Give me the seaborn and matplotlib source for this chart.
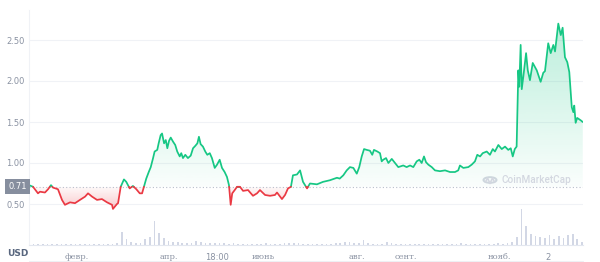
import numpy as np
import pandas as pd
import matplotlib
matplotlib.use("Agg")
import matplotlib.pyplot as plt
import seaborn as sns
from matplotlib.path import Path
from matplotlib.lines import Line2D
from matplotlib.patches import Circle
import matplotlib.transforms as mtransforms

# ---------------- data ----------------
day = [0, 2.6, 5.8, 7.1, 10.3, 12.3, 14.2, 15.5, 18.7, 21.3, 23.2, 26.5, 29.7, 32.9, 36.2,
       38.1, 40.7, 43.9, 47.1, 50.4, 53.6, 54.2, 56.8,
       57.5, 59.2, 61.3, 62.8, 65.0, 67.1, 69.3, 71.5, 73.0, 74.2, 75.7, 77.3, 78.6, 80.1,
       81.1, 82.8, 83.7, 85.0, 85.9, 87.2, 88.3, 89.3, 90.4, 91.5, 93.0, 94.4, 95.7, 97.3,
       98.3, 99.4, 100.9, 102.6, 104.4, 105.9, 107.4, 108.7, 109.7, 110.8, 112.3, 113.8,
       115.1, 116.7, 118.1, 119.9, 121.4, 123.1, 124.6, 126.3, 127.8, 129.1, 130.2, 131.2,
       132.8, 134.3,
       136.2, 138.2, 141.4, 144.6, 147.2, 149.1, 152.4, 155.6, 158.8, 160.1, 163.3, 165.3,
       167.2, 169.1, 170.4, 173.0, 175.0, 176.9, 179.5, 181.4, 185.9, 189.8, 194.3, 198.8,
       200.6, 202.9, 205.1, 207.2, 209.4, 211.6, 213.2, 214.8, 216.3, 218.0, 220.1, 221.6,
       222.7, 224.9, 226.6, 227.7, 228.7, 230.5, 232.0, 234.2, 236.3, 238.4, 241.6, 243.8,
       246.0, 248.1, 250.3, 252.0, 253.5, 255.0, 256.3, 257.8, 260.0, 262.1, 265.3, 268.6,
       271.8, 275.0, 277.1, 278.2, 280.4, 283.6, 285.8, 287.9, 289.4, 291.2, 292.9, 295.5,
       297.6, 299.4, 300.8, 303.0, 305.2, 307.3, 309.4, 311.0, 312.3, 313.6,
       314.8, 315.9, 316.5, 317.4, 318.1, 319.1, 320.9, 322.0, 323.4, 325.2, 327.8, 330.3,
       332.0, 333.1, 335.2, 336.8, 338.5, 339.6, 341.7, 343.3, 344.5, 346.0, 347.5, 348.8,
       350.4, 351.4, 352.0, 352.9, 353.9, 356.2, 357.5]
price = [0.73, 0.71, 0.63, 0.65, 0.64, 0.68, 0.73, 0.70, 0.68, 0.55, 0.49, 0.52, 0.51, 0.55,
         0.59, 0.63, 0.59, 0.55, 0.56, 0.52, 0.49, 0.44, 0.50,
         0.51, 0.71, 0.80, 0.77, 0.69, 0.72, 0.68, 0.63, 0.63, 0.71, 0.81, 0.89, 0.95, 1.06,
         1.14, 1.16, 1.24, 1.34, 1.36, 1.24, 1.28, 1.18, 1.27, 1.31, 1.26, 1.22, 1.14, 1.08,
         1.12, 1.06, 1.10, 1.06, 1.09, 1.18, 1.21, 1.24, 1.32, 1.23, 1.20, 1.14,
         1.10, 1.12, 1.06, 0.94, 0.98, 1.04, 0.94, 0.89, 0.83, 0.73, 0.49, 0.63,
         0.67, 0.71,
         0.71, 0.66, 0.67, 0.60, 0.63, 0.67, 0.61, 0.60, 0.61, 0.64, 0.56, 0.61,
         0.69, 0.71, 0.85, 0.86, 0.91, 0.77, 0.69, 0.75, 0.74, 0.77, 0.79, 0.82,
         0.81, 0.85, 0.91, 0.95, 0.94, 0.87, 0.95, 1.08, 1.17, 1.16, 1.15, 1.10,
         1.16, 1.14, 1.12, 1.02, 1.04, 1.06, 1.00, 1.05, 1.00, 0.95, 0.97, 0.95,
         0.97, 0.95, 1.02, 1.04, 1.00, 1.08, 1.01, 0.98, 0.95, 0.91, 0.90, 0.91,
         0.89, 0.89, 0.91, 0.97, 0.94, 0.95, 0.98, 1.02, 1.10, 1.08, 1.12, 1.14,
         1.10, 1.17, 1.14, 1.22, 1.17, 1.20, 1.16, 1.18, 1.08, 1.17,
         1.20, 2.13, 1.93, 2.44, 1.90, 2.05, 2.34, 2.13, 2.01, 2.22, 2.13, 1.99,
         2.10, 2.12, 2.46, 2.34, 2.44, 2.36, 2.70, 2.56, 2.65, 2.29, 2.23, 2.11,
         1.68, 1.62, 1.70, 1.49, 1.55, 1.52, 1.50]
base_price = 0.71

# volume, one value every 3 days (relative units)
vol = [1.0, 1.2, 0.8, 1.0, 1.0, 0.9, 1.1, 1.0, 0.8, 1.0, 1.2, 1.0, 0.9, 1.0, 1.1, 1.0, 0.9,
       1.2, 1.0, 1.5, 13, 6, 3, 1.5, 2, 6, 8, 23, 12, 7, 4, 3, 2.5, 2, 2, 2, 4, 2.5, 2, 1.5,
       1.5, 2, 1.5, 1.2, 1.5, 1.2, 1.0, 1.2, 1.0, 1.2, 1.0, 1.5, 1.2, 1.0, 1.2, 1.5, 1.8, 2.0,
       1.8, 1.2, 1.0, 1.2, 1.0, 1.2, 1.0, 1.2, 1.5, 1.5, 2.5, 3.0, 2.0, 1.5, 5.0, 1.5, 1.0,
       1.0, 1.2, 3.0, 1.5, 1.2, 1.0, 1.0, 1.2, 1.0, 1.0, 1.2, 1.0, 1.0, 1.0, 1.2, 1.0, 1.0,
       1.2, 1.8, 1.2, 1.0, 1.0, 1.2, 1.0, 1.0, 1.2, 1.5, 1.2, 2.0, 3.0, 8, 35, 18, 11, 9, 8,
       7, 10, 6, 9, 7, 10, 11, 6, 3]
vol_day = np.arange(len(vol)) * 3.0

tick_days = [31, 90, 121.4, 151, 212, 243, 304, 335]
tick_labels = ["февр.", "апр.", "18:00", "июнь", "авг.", "сент.", "нояб.", "2"]
y_ticks = [0.5, 1.0, 1.5, 2.0, 2.5]
y_tick_labels = ["0.50", "1.00", "1.50", "2.00", "2.50"]

# ---------------- styling ----------------
GREEN = "#16c784"
RED = "#ea3943"
GRAY = "#8a92a2"

sns.set_theme(style="white")
plt.rcParams["font.family"] = ["DejaVu Sans"]

W, H = 600, 262
fig = plt.figure(figsize=(6.0, 2.62), dpi=100)
L, R, B, T = 29, 583, 245, 10
ax = fig.add_axes([L / W, (H - B) / H, (R - L) / W, (B - T) / H])
ax2 = ax.twinx()
ax.set_zorder(ax2.get_zorder() + 1)
ax.patch.set_visible(False)

x = np.asarray(day, float)
y = np.asarray(price, float)

# insert crossing points with baseline
xs, ys = [x[0]], [y[0]]
for i in range(1, len(x)):
    y0, y1 = y[i - 1], y[i]
    if (y0 - base_price) * (y1 - base_price) < 0:
        t = (base_price - y0) / (y1 - y0)
        xs.append(x[i - 1] + t * (x[i] - x[i - 1]))
        ys.append(base_price)
    xs.append(x[i])
    ys.append(y[i])
xs = np.array(xs)
ys = np.array(ys)

XMAX = (R - L) / 1.549
ymax = (B - T) / 82.0


def grad_fill(mask, color, a_lo, a_hi, y_lo, y_hi):
    coll = ax.fill_between(xs, base_price, ys, where=mask, interpolate=True,
                           facecolor="none", edgecolor="none")
    paths = coll.get_paths()
    if not paths:
        return
    comp = Path.make_compound_path(*paths)
    rgb = matplotlib.colors.to_rgb(color)
    n = 256
    img = np.zeros((n, 1, 4))
    img[:, 0, :3] = rgb
    img[:, 0, 3] = np.linspace(a_lo, a_hi, n)
    im = ax.imshow(img, extent=[xs.min(), xs.max(), y_lo, y_hi], origin="lower",
                   aspect="auto", zorder=1, interpolation="bilinear")
    im.set_clip_path(comp, transform=ax.transData)


grad_fill(ys >= base_price, GREEN, 0.02, 0.30, base_price, 2.75)
grad_fill(ys <= base_price, RED, 0.30, 0.03, 0.42, base_price)

# line segments coloured by side of baseline
rows = []
seg = 0
for mask, name in [(ys >= base_price - 1e-9, "up"), (ys <= base_price + 1e-9, "down")]:
    inrun = False
    for i in range(len(xs)):
        if mask[i]:
            if not inrun:
                seg += 1
                inrun = True
            rows.append((xs[i], ys[i], name, seg))
        else:
            inrun = False
df = pd.DataFrame(rows, columns=["day", "price", "side", "seg"])
sns.lineplot(data=df, x="day", y="price", hue="side", units="seg", estimator=None,
             sort=False, palette={"up": GREEN, "down": RED}, legend=False,
             linewidth=1.25, ax=ax, zorder=3)

ax.set_xlim(0, XMAX)
ax.set_ylim(0, ymax)

# baseline
ax.axhline(base_price, color="#b8bfcc", ls=(0, (1, 2)), lw=0.8, zorder=2)

# volume
ax2.bar(vol_day, vol, width=1.1, color="#cdd3e3", alpha=0.9, linewidth=0)
ax2.set_xlim(0, XMAX)
ax2.set_ylim(0, max(vol) * (B - T) / 36.0)
ax2.set_yticks([])
for s in ax2.spines.values():
    s.set_visible(False)

# axes styling
ax.set_yticks(y_ticks)
ax.set_yticklabels(y_tick_labels)
ax.grid(axis="y", color="#f0f2f6", lw=0.8)
ax.grid(axis="x", visible=False)
ax.tick_params(axis="y", length=0, pad=3, labelsize=6, labelcolor=GRAY)
ax.set_xticks(tick_days)
ax.set_xticklabels(tick_labels)
ax.tick_params(axis="x", length=2.5, width=0.6, color="#cfd5e0", pad=3,
               labelsize=6, labelcolor=GRAY)
for lab in ax.get_xticklabels():
    if lab.get_text() not in ("18:00", "2"):
        lab.set_fontfamily("DejaVu Serif")
ax.set_xlabel("")
ax.set_ylabel("")
for s in ["top", "right"]:
    ax.spines[s].set_visible(False)
ax.spines["bottom"].set_color("#e3e7ef")
ax.spines["bottom"].set_linewidth(0.8)
ax.spines["left"].set_color("#f0f2f6")
ax.spines["left"].set_linewidth(0.8)

# current price tag
trans = mtransforms.blended_transform_factory(ax.transAxes, ax.transData)
ax.text(-0.004, base_price, "0.71", transform=trans, ha="right", va="center",
        fontsize=6, color="white", zorder=5,
        bbox=dict(boxstyle="square,pad=0.38", facecolor="#868e9e", edgecolor="none"))

# bottom line and USD label
fig.add_artist(Line2D([L / W, R / W], [(H - 260.5) / H] * 2, color="#eef0f4", lw=0.8))
fig.text(7 / W, (H - 253) / H, "USD", fontsize=6.5, fontweight="bold", color="#58667e",
         va="center", ha="left")

# watermark
wm = "#d3d7e0"
fig.add_artist(Circle((490 / W, (H - 180) / H), 6.5 / W, transform=fig.transFigure,
                      facecolor="none", edgecolor=wm, lw=1.4))
fig.add_artist(Line2D(np.array([485.5, 487.5, 490, 492.5, 494.5]) / W,
                      (H - np.array([182, 178, 183.5, 178, 182])) / H, color=wm, lw=1.2))
fig.text(501 / W, (H - 180) / H, "CoinMarketCap", fontsize=7.2, fontweight="medium",
         family=["Roboto", "DejaVu Sans"], color=wm, va="center", ha="left")

fig.savefig("out.png", dpi=100, facecolor="white")
